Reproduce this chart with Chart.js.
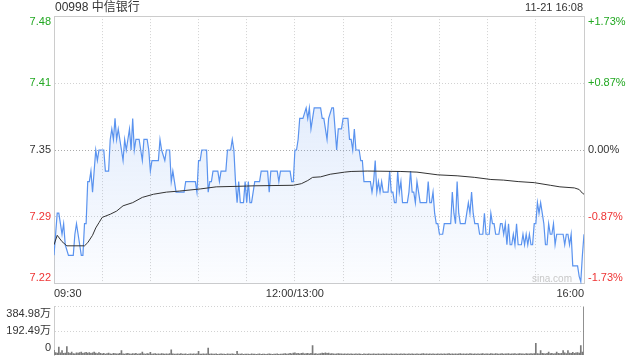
<!DOCTYPE html>
<html><head><meta charset="utf-8">
<script src="https://cdn.jsdelivr.net/npm/chart.js@4.4.0/dist/chart.umd.min.js"></script>
<style>
html,body{margin:0;padding:0;background:#fff;}
#wrap{position:relative;width:640px;height:360px;overflow:hidden;font-family:"Liberation Sans",Arial,"Noto Sans CJK SC",sans-serif;}
#c1{position:absolute;left:0;top:0;}
#c2{position:absolute;left:0;top:290px;}
.t{position:absolute;color:#333;white-space:nowrap;}
</style></head><body>
<div id="wrap">
<canvas id="c1" width="640" height="300"></canvas>
<canvas id="c2" width="640" height="82"></canvas>
<div class="t" id="title" style="left:55px;top:0;font-size:12px;line-height:15px;"></div>
<div class="t" id="stamp" style="right:57px;top:0;font-size:11px;line-height:15px;"></div>
<div class="t" id="wm" style="left:532px;top:272px;font-size:10px;line-height:13px;color:#c8c8c8;"></div>
</div>
<script>
const stockName = '00998 中信银行';
const stampText = '11-21 16:08';
const watermark = 'sina.com';
const prevClose = 7.35;
const rangePct = 0.0173;

const priceTickLabels = ['7.22', '7.29', '7.35', '7.41', '7.48'];
const pctTickLabels = ['-1.73%', '-0.87%', '0.00%', '+0.87%', '+1.73%'];
const gridMinutes = [0, 30, 60, 90, 120, 150, 180, 210, 240, 270, 300, 330];
const timeTickMinutes = [0, 150, 330];
const timeTickLabels = ['09:30', '12:00/13:00', '16:00'];

const priceMinutes = [0,2,3,4,5,6,7,9,12,13,14,16,17,18,19,20,21,22,23,24,25,26,27,28,31,32,34,35,36,37,38,39,40,41,42,43,44,45,46,47,48,49,50,51,53,54,55,56,58,59,60,61,65,66,67,69,70,72,73,74,75,76,81,82,88,89,90,91,92,95,96,97,98,99,102,103,104,107,108,110,111,112,113,114,115,116,118,119,120,121,122,123,124,125,128,129,133,134,135,139,140,141,147,148,149,150,151,152,153,155,157,158,159,160,161,162,166,167,168,170,171,173,174,175,176,177,179,180,183,184,185,186,187,188,190,191,192,193,197,198,199,200,201,202,203,204,205,208,209,210,211,212,213,214,215,216,217,220,221,222,223,224,225,226,227,228,232,233,234,235,236,237,238,239,240,242,243,247,248,249,250,251,252,253,256,257,258,259,260,261,262,264,265,267,268,269,271,272,273,274,275,277,278,279,280,281,282,283,284,285,286,287,288,289,290,291,292,293,294,295,296,297,298,299,300,301,302,303,304,305,306,307,308,309,310,311,312,313,316,317,318,319,320,321,322,323,326,327,328,329,330];
const priceValues = [7.25,7.29,7.29,7.28,7.27,7.28,7.26,7.25,7.25,7.27,7.28,7.26,7.25,7.25,7.28,7.28,7.32,7.32,7.33,7.31,7.33,7.35,7.34,7.35,7.35,7.33,7.33,7.36,7.37,7.36,7.38,7.36,7.37,7.36,7.35,7.34,7.36,7.35,7.36,7.37,7.35,7.38,7.35,7.36,7.36,7.35,7.34,7.36,7.36,7.35,7.33,7.34,7.34,7.36,7.35,7.34,7.35,7.35,7.32,7.33,7.32,7.31,7.31,7.32,7.32,7.31,7.34,7.34,7.35,7.35,7.31,7.32,7.32,7.33,7.33,7.32,7.33,7.33,7.35,7.35,7.36,7.35,7.32,7.30,7.32,7.30,7.30,7.32,7.30,7.32,7.30,7.30,7.31,7.32,7.32,7.33,7.33,7.31,7.33,7.33,7.32,7.33,7.33,7.32,7.32,7.35,7.35,7.36,7.38,7.38,7.39,7.38,7.39,7.37,7.38,7.39,7.39,7.38,7.38,7.36,7.38,7.39,7.39,7.37,7.35,7.37,7.37,7.38,7.38,7.36,7.36,7.35,7.37,7.35,7.35,7.34,7.34,7.32,7.32,7.31,7.32,7.34,7.31,7.32,7.31,7.32,7.31,7.31,7.33,7.31,7.31,7.30,7.30,7.33,7.31,7.32,7.30,7.30,7.31,7.33,7.31,7.31,7.30,7.32,7.31,7.30,7.30,7.32,7.30,7.30,7.31,7.29,7.28,7.28,7.27,7.27,7.28,7.28,7.31,7.29,7.28,7.32,7.29,7.28,7.28,7.29,7.30,7.29,7.31,7.29,7.28,7.28,7.27,7.27,7.29,7.27,7.27,7.29,7.28,7.28,7.27,7.27,7.28,7.28,7.27,7.28,7.26,7.28,7.26,7.26,7.27,7.26,7.28,7.26,7.26,7.26,7.27,7.26,7.27,7.26,7.27,7.26,7.26,7.28,7.28,7.30,7.29,7.30,7.29,7.28,7.26,7.26,7.28,7.27,7.27,7.28,7.26,7.27,7.27,7.27,7.26,7.27,7.27,7.26,7.27,7.24,7.24,7.23,7.225,7.25,7.27];

const avgMinutes = [0,2,5,8,19,21,24,26,28,30,35,39,43,49,55,62,70,78,91,101,114,125,149,154,158,161,166,172,181,185,195,216,226,239,251,262,272,280,289,299,309,315,324,327,329,330];
const avgValues = [7.260,7.269,7.263,7.259,7.259,7.262,7.269,7.276,7.281,7.286,7.289,7.292,7.297,7.300,7.305,7.308,7.310,7.311,7.313,7.315,7.3155,7.316,7.3165,7.318,7.321,7.324,7.3245,7.327,7.329,7.3296,7.330,7.3296,7.329,7.3264,7.3255,7.324,7.322,7.3214,7.320,7.319,7.3165,7.315,7.314,7.3125,7.309,7.308];

const volumeTickValues = [0, 192.49, 384.98];
const volumeTickLabels = ['0', '192.49万', '384.98万'];
const volumeValues = [
40,22,18,64,20,38,15,18,69,22,16,26,14,12,20,18,22,25,16,20,24,18,22,15,20,25,18,14,22,16,
12,15,10,14,18,12,10,16,14,12,11,15,38,12,10,14,16,12,10,14,12,16,10,12,14,26,12,10,14,12,
24,10,12,14,10,12,9,14,11,10,12,10,14,44,12,10,9,12,10,14,9,10,12,8,10,12,9,11,10,12,
31,10,9,12,10,11,56,10,12,9,10,11,8,10,12,9,10,8,11,10,9,12,10,8,31,10,9,11,8,10,
9,10,8,12,9,10,8,9,11,8,10,9,8,10,12,9,8,10,9,11,8,10,9,12,14,10,12,16,12,18,
20,14,16,12,15,18,12,14,16,12,15,77,12,14,10,12,14,18,16,20,15,18,12,14,12,10,12,14,11,12,
10,12,9,11,10,12,9,10,11,9,12,10,8,11,9,10,12,9,10,11,9,10,12,10,9,11,10,12,9,10,
11,9,10,12,9,10,11,9,12,10,9,11,10,12,9,10,11,9,10,12,14,10,11,9,12,10,11,9,10,12,
10,11,9,12,10,11,14,10,12,9,11,10,12,14,10,11,9,12,10,13,11,10,12,9,11,10,12,14,10,11,
12,10,13,11,10,14,12,10,11,13,10,12,11,14,10,12,11,13,10,12,14,11,12,10,13,11,12,14,12,13,
95,14,12,38,16,14,12,15,26,13,15,12,14,26,16,13,15,38,20,14,38,18,15,24,16,20,22,18,77,25,
384.98];

document.getElementById('title').textContent = stockName;
document.getElementById('stamp').textContent = stampText;
document.getElementById('wm').textContent = watermark;

const FONT = '"Liberation Sans", Arial, "Noto Sans CJK SC", sans-serif';
const GREEN = '#22a822', RED = '#ee3333', DARK = '#333333', GRID = '#d2d2d2', FRAME = '#cccccc';
const yMin = prevClose * (1 - rangePct), yMax = prevClose * (1 + rangePct);
const priceTickValues = [yMin, prevClose * (1 - rangePct / 2), prevClose, prevClose * (1 + rangePct / 2), yMax];

function edgeWrap(label, index, count) {
  if (index === count - 1) return ['', label];
  if (index === 0) return [label, ''];
  return label;
}
function tickColor(ctx) {
  const i = ctx.index;
  if (i > 2) return GREEN;
  if (i < 2) return RED;
  return DARK;
}

const frame = {
  id: 'frame',
  afterDraw(chart) {
    const { ctx, chartArea: a } = chart;
    ctx.save();
    ctx.strokeStyle = FRAME; ctx.lineWidth = 1;
    ctx.beginPath();
    const y = Math.round(a.top) + 0.5;
    ctx.moveTo(a.left, y); ctx.lineTo(a.right, y);
    ctx.stroke();
    ctx.restore();
  }
};

new Chart(document.getElementById('c1'), {
  type: 'line',
  data: {
    datasets: [
      {
        label: '均价',
        data: avgMinutes.map((m, i) => ({ x: m, y: avgValues[i] })),
        borderColor: '#333', borderWidth: 1, pointRadius: 0, fill: false, tension: 0
      },
      {
        label: '价格',
        data: priceMinutes.map((m, i) => ({ x: m, y: priceValues[i] })),
        borderColor: '#5a93ef', borderWidth: 1.2, pointRadius: 0, tension: 0,
        fill: 'start',
        backgroundColor: (ctx) => {
          const area = ctx.chart.chartArea;
          if (!area) return 'rgba(90,147,239,0.1)';
          const g = ctx.chart.ctx.createLinearGradient(0, area.top, 0, area.bottom);
          g.addColorStop(0, 'rgba(90,147,239,0.24)');
          g.addColorStop(1, 'rgba(90,147,239,0.02)');
          return g;
        }
      }
    ]
  },
  options: {
    responsive: false, animation: false,
    layout: { padding: { top: 14, left: 0, right: 0, bottom: 0 } },
    plugins: { legend: { display: false }, tooltip: { enabled: false } },
    scales: {
      x: {
        type: 'linear', min: 0, max: 330,
        afterBuildTicks: (s) => { s.ticks = gridMinutes.map(v => ({ value: v })); },
        afterFit: (s) => { s.height = 16; },
        grid: { color: GRID, drawTicks: false, lineWidth: 1 },
        border: { display: true, color: FRAME, dash: [1, 2] },
        ticks: {
          autoSkip: false, maxRotation: 0, align: 'inner', padding: 3, color: DARK,
          font: { size: 11, family: FONT },
          callback: (v) => { const k = timeTickMinutes.indexOf(v); return k < 0 ? '' : timeTickLabels[k]; }
        }
      },
      y: {
        position: 'left', min: yMin, max: yMax,
        afterBuildTicks: (s) => { s.ticks = priceTickValues.map(v => ({ value: v })); },
        afterFit: (s) => { s.width = 54; },
        grid: { color: (ctx) => ctx.index === 2 ? '#aaaaaa' : GRID, drawTicks: false },
        border: { display: true, color: FRAME, dash: [1, 2] },
        ticks: {
          autoSkip: false, padding: 3, color: tickColor, font: { size: 11, family: FONT, lineHeight: 1.1 },
          callback: (v, i, ticks) => edgeWrap(priceTickLabels[i], i, ticks.length)
        }
      },
      y1: {
        position: 'right', min: yMin, max: yMax,
        afterBuildTicks: (s) => { s.ticks = priceTickValues.map(v => ({ value: v })); },
        afterFit: (s) => { s.width = 56; },
        grid: { drawOnChartArea: false, drawTicks: false },
        border: { display: true, color: FRAME },
        ticks: {
          autoSkip: false, padding: 4, color: tickColor, font: { size: 11, family: FONT, lineHeight: 1.1 },
          callback: (v, i, ticks) => edgeWrap(pctTickLabels[i], i, ticks.length)
        }
      }
    }
  },
  plugins: [frame]
});

new Chart(document.getElementById('c2'), {
  type: 'bar',
  data: {
    datasets: [{
      label: '成交量',
      data: volumeValues.map((v, i) => ({ x: i, y: v })),
      backgroundColor: '#7a7a7a', borderWidth: 0, barThickness: 1
    }]
  },
  options: {
    responsive: false, animation: false,
    layout: { padding: { top: 15, left: 0, right: 56, bottom: 0 } },
    plugins: { legend: { display: false }, tooltip: { enabled: false } },
    scales: {
      x: { type: 'linear', min: 0, max: 330, offset: false, display: false },
      y: {
        min: 0, max: volumeTickValues[2],
        afterBuildTicks: (s) => { s.ticks = volumeTickValues.map(v => ({ value: v })); },
        afterFit: (s) => { s.width = 54; },
        grid: { color: (ctx) => ctx.index === 0 ? 'rgba(0,0,0,0)' : GRID, drawTicks: false },
        border: { display: true, color: FRAME, dash: [1, 2] },
        ticks: {
          autoSkip: false, padding: 3, color: DARK, font: { size: 11, family: FONT, lineHeight: 1.25 },
          callback: (v, i, ticks) => edgeWrap(volumeTickLabels[i], i, ticks.length)
        }
      }
    }
  }
});
</script>
</body></html>
